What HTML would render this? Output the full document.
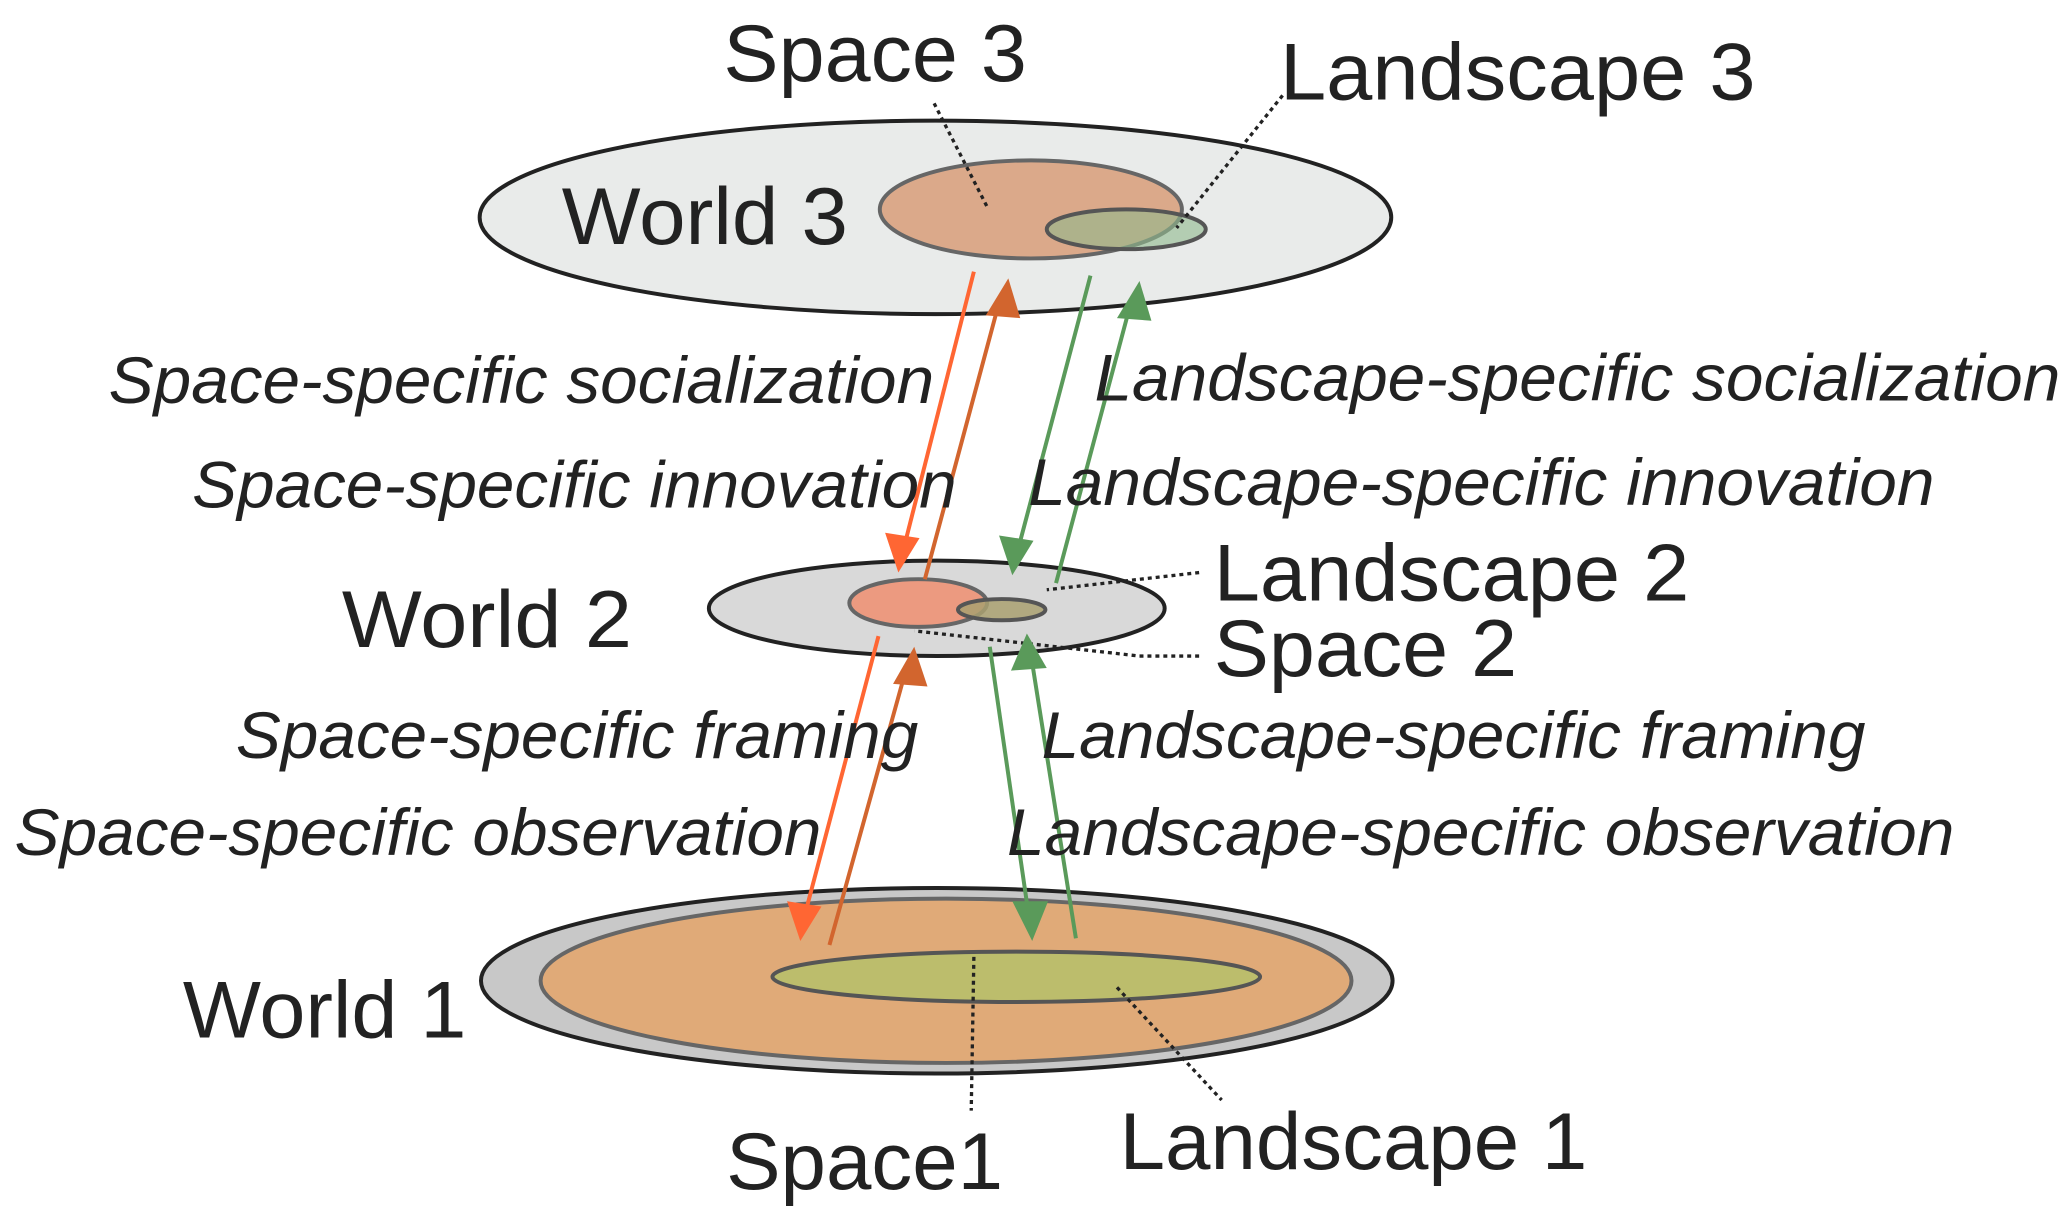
<!DOCTYPE html>
<html><head><meta charset="utf-8"><style>
html,body{margin:0;padding:0;background:#fff;}
svg{display:block;}
text{font-family:"Liberation Sans",sans-serif;fill:#222;}
.big{font-size:61px;}
.it{font-size:50px;font-style:italic;}
</style></head><body>
<svg width="2067" height="1218" viewBox="0 0 1560 919" preserveAspectRatio="none" xmlns="http://www.w3.org/2000/svg">
<!-- World 3 -->
<ellipse cx="706" cy="164" rx="344" ry="73" fill="#e9ebea" stroke="#222" stroke-width="3"/>
<ellipse cx="778" cy="158" rx="114" ry="37" fill="#dba98a" stroke="#666" stroke-width="3"/>
<ellipse cx="850" cy="173" rx="60" ry="15" fill="#8fb98c" fill-opacity="0.6" stroke="#555" stroke-width="3"/>
<!-- World 2 -->
<ellipse cx="707" cy="459" rx="172" ry="36" fill="#d9d9d9" stroke="#222" stroke-width="3"/>
<ellipse cx="693" cy="455" rx="52" ry="18" fill="#ec9a80" stroke="#666" stroke-width="3"/>
<ellipse cx="756" cy="460" rx="33" ry="8" fill="#a9a070" fill-opacity="0.85" stroke="#555" stroke-width="3"/>
<!-- World 1 -->
<ellipse cx="707" cy="740" rx="344" ry="70" fill="#c8c8c8" stroke="#222" stroke-width="3"/>
<ellipse cx="714" cy="740" rx="306" ry="62" fill="#e0aa78" stroke="#666" stroke-width="3"/>
<ellipse cx="767" cy="737" rx="184" ry="19" fill="#bcbd6c" stroke="#555" stroke-width="3"/>

<g stroke="#222" stroke-width="2.5" stroke-dasharray="3,3" fill="none">
<line x1="705" y1="78" x2="746" y2="158"/>
<line x1="968" y1="72" x2="888" y2="172"/>
<line x1="905" y1="432" x2="790" y2="445"/>
<polyline points="905,495 860,495 690,476"/>
<line x1="735" y1="722" x2="733" y2="838"/>
<line x1="843" y1="745" x2="922" y2="830"/>
</g>

<g stroke-width="3" fill="none">
<line x1="735" y1="205" x2="683" y2="410" stroke="#ff6633"/>
<line x1="698" y1="437" x2="753" y2="232" stroke="#d2652e"/>
<line x1="823" y1="208" x2="769" y2="412" stroke="#5a9a5a"/>
<line x1="797" y1="440" x2="852" y2="234" stroke="#5a9a5a"/>
<line x1="663" y1="480" x2="608" y2="688" stroke="#ff6633"/>
<line x1="626" y1="713" x2="683" y2="508" stroke="#d2652e"/>
<line x1="747" y1="488" x2="776" y2="688" stroke="#5a9a5a"/>
<line x1="812" y1="708" x2="779" y2="500" stroke="#5a9a5a"/>
</g>
<g>
<polygon points="678,432 668,402 694,406" fill="#ff6633"/>
<polygon points="761,210 744,238 770,240" fill="#d2652e"/>
<polygon points="764,434 754,404 780,408" fill="#5a9a5a"/>
<polygon points="860,212 843,240 869,242" fill="#5a9a5a"/>
<polygon points="604,710 594,680 620,684" fill="#ff6633"/>
<polygon points="690,488 674,516 700,518" fill="#d2652e"/>
<polygon points="779,710 764,680 791,680" fill="#5a9a5a"/>
<polygon points="775,478 763,506 790,504" fill="#5a9a5a"/>
</g>

<text class="big" x="546" y="61" textLength="229" lengthAdjust="spacingAndGlyphs">Space 3</text>
<text class="big" x="966" y="75" textLength="359" lengthAdjust="spacingAndGlyphs">Landscape 3</text>
<text class="big" x="424" y="184" textLength="216" lengthAdjust="spacingAndGlyphs">World 3</text>
<text class="big" x="258" y="488" textLength="219" lengthAdjust="spacingAndGlyphs">World 2</text>
<text class="big" x="916" y="453" textLength="359" lengthAdjust="spacingAndGlyphs">Landscape 2</text>
<text class="big" x="916" y="510" textLength="229" lengthAdjust="spacingAndGlyphs">Space 2</text>
<text class="big" x="138" y="783" textLength="214" lengthAdjust="spacingAndGlyphs">World 1</text>
<text class="big" x="548" y="897" textLength="209" lengthAdjust="spacingAndGlyphs">Space1</text>
<text class="big" x="845" y="882" textLength="353" lengthAdjust="spacingAndGlyphs">Landscape 1</text>

<text class="it" x="82" y="304" textLength="623" lengthAdjust="spacingAndGlyphs">Space-specific socialization</text>
<text class="it" x="826" y="302" textLength="729" lengthAdjust="spacingAndGlyphs">Landscape-specific socialization</text>
<text class="it" x="145" y="383" textLength="577" lengthAdjust="spacingAndGlyphs">Space-specific innovation</text>
<text class="it" x="776" y="381" textLength="684" lengthAdjust="spacingAndGlyphs">Landscape-specific innovation</text>
<text class="it" x="178" y="572" textLength="515" lengthAdjust="spacingAndGlyphs">Space-specific framing</text>
<text class="it" x="786" y="572" textLength="622" lengthAdjust="spacingAndGlyphs">Landscape-specific framing</text>
<text class="it" x="11" y="645" textLength="609" lengthAdjust="spacingAndGlyphs">Space-specific observation</text>
<text class="it" x="760" y="645" textLength="715" lengthAdjust="spacingAndGlyphs">Landscape-specific observation</text>
</svg>
</body></html>
